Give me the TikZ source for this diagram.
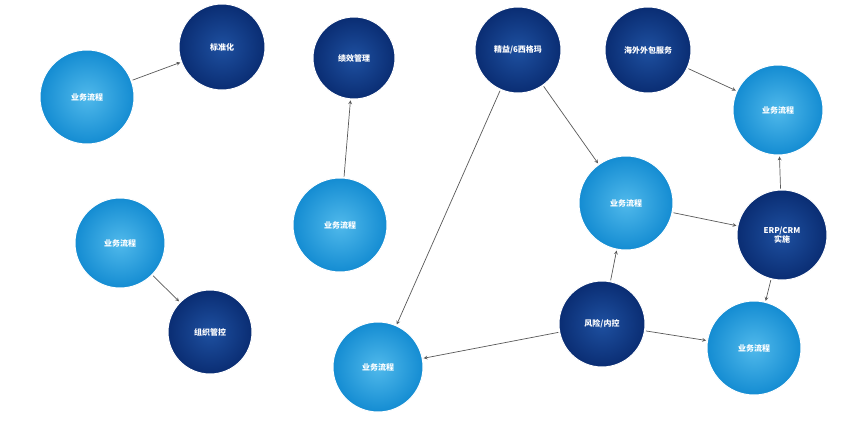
\documentclass[tikz,border=0pt]{standalone}
\usepackage{fontspec}
\newfontfamily\cjk{Noto Sans CJK SC}
\definecolor{ltA}{RGB}{80,185,235}
\definecolor{ltB}{RGB}{20,140,210}
\definecolor{dkA}{RGB}{30,80,160}
\definecolor{dkB}{RGB}{10,45,115}
\begin{document}
\begin{tikzpicture}[x=1pt,y=-1pt,
  lt/.style={circle,draw=white,line width=1pt,inner sep=0pt,minimum size=#1,inner color=ltA,outer color=ltB,text=white,font=\cjk\bfseries\fontsize{8}{9}\selectfont,align=center},
  dk/.style={circle,draw=white,line width=1pt,inner sep=0pt,minimum size=#1,inner color=dkA,outer color=dkB,text=white,font=\cjk\bfseries\fontsize{8}{9}\selectfont,align=center},
  arr/.style={->,>=stealth,draw=black!65,line width=0.7pt,shorten >=1pt,shorten <=1pt}]
\useasboundingbox (0,0) rectangle (863,421);
\fill[white] (0,0) rectangle (863,421);
\node[lt=94] (l1) at (87,97) {业务流程};
\node[dk=86] (bz) at (222,47) {标准化};
\node[dk=82] (jx) at (354,58) {绩效管理};
\node[lt=94] (l2) at (340,225) {业务流程};
\node[dk=86] (jy) at (518,50) {精益/6西格玛};
\node[dk=86] (hw) at (648,50) {海外外包服务};
\node[lt=90] (l3) at (778,110) {业务流程};
\node[lt=94] (l4) at (626,203) {业务流程};
\node[dk=90] (erp) at (782,235) {ERP/CRM\\实施};
\node[dk=86] (fx) at (602,324) {风险/内控};
\node[lt=94] (l5) at (754,348) {业务流程};
\node[lt=90] (l6) at (378,367) {业务流程};
\node[lt=90] (l7) at (120,243) {业务流程};
\node[dk=84] (zz) at (210,332) {组织管控};
\draw[arr] (l1) -- (bz);
\draw[arr] (l2) -- (jx);
\draw[arr] (jy) -- (l4);
\draw[arr] (jy) -- (l6);
\draw[arr] (hw) -- (l3);
\draw[arr] (erp) -- (l3);
\draw[arr] (l4) -- (erp);
\draw[arr] (erp) -- (l5);
\draw[arr] (fx) -- (l4);
\draw[arr] (fx) -- (l6);
\draw[arr] (fx) -- (l5);
\draw[arr] (l7) -- (zz);
\end{tikzpicture}
\end{document}
